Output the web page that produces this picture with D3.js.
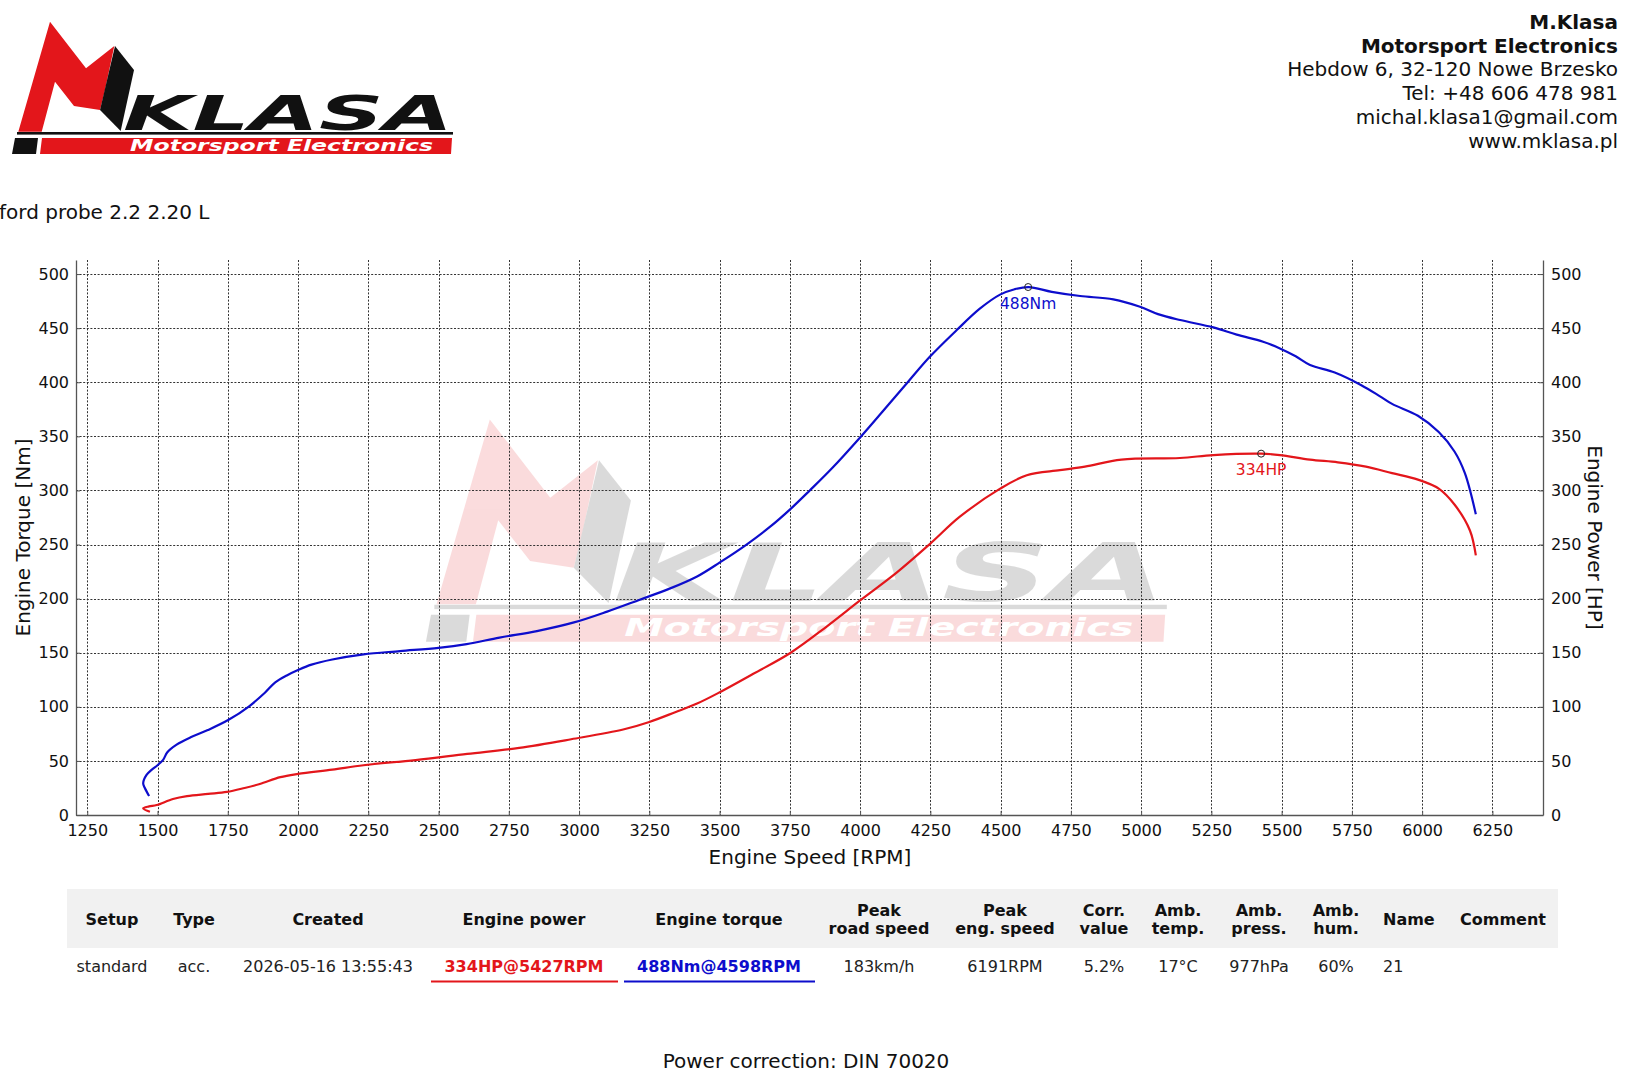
<!DOCTYPE html>
<html>
<head>
<meta charset="utf-8">
<script src="https://cdn.jsdelivr.net/npm/d3@7"></script>
<style>
  body { margin: 0; background: #fff; }
  svg { display: block; font-family: "DejaVu Sans", sans-serif; }
</style>
</head>
<body>
<svg id="dyno" width="1628" height="1080"></svg>
<script>
// ---- data ----
const torqueRpm = [1470, 1455, 1449, 1461, 1480, 1500, 1520, 1535, 1568, 1620, 1679, 1753, 1826, 1882, 1919, 1960,
  2000, 2048, 2122, 2233, 2363, 2500, 2600, 2717, 2850, 2982, 3100, 3216, 3320, 3420, 3501, 3596, 3680, 3753,
  3821, 3900, 4000, 4090, 4171, 4248, 4343, 4426, 4498, 4550, 4600, 4682, 4783, 4901, 4996, 5060, 5139, 5257, 5340,
  5434, 5494, 5550, 5601, 5689, 5782, 5850, 5893, 5985, 6059, 6115, 6152, 6191];
const torqueNm = [17.6, 25, 29.3, 37, 42, 46, 51, 58, 65, 72, 78.5, 88, 100.5, 113, 122.6, 129,
  134, 139, 143.7, 148.5, 151.5, 154.5, 158, 164, 170, 178, 188, 199, 209, 220.5, 233.5, 250, 266.5, 283,
  300, 320.5, 349, 376, 400.5, 423.5, 448, 468, 481, 486, 488, 483.6, 479.7, 476.6, 469.8, 463, 457.5, 450.7, 444,
  437.4, 431.3, 424, 416, 409, 397.5, 387, 380, 369, 354, 336, 316, 278];

const powerRpm = [1473, 1449, 1470, 1497, 1555, 1605, 1680, 1747, 1810, 1864, 1937, 2000, 2122, 2233, 2418,
  2602, 2787, 2972, 3157, 3250, 3342, 3420, 3501, 3620, 3753, 3880, 4000, 4130, 4248, 4355, 4497, 4593, 4711,
  4800, 4930, 5138, 5257, 5427, 5494, 5601, 5700, 5800, 5893, 5985, 6059, 6115, 6170, 6191];
const powerHp = [3, 6.2, 8, 9.2, 14.8, 17.5, 19.5, 21.3, 25, 28.7, 35, 38, 42, 46, 50.8,
  56.5, 62, 70, 79, 86, 95, 103, 113.5, 130.5, 150, 174, 198.3, 224, 250.4, 275.7, 301.4, 314, 318.7,
  322, 328.5, 330, 332.7, 334, 332.7, 328.5, 326, 322, 316, 310, 301.7, 287, 263, 240];

const rpmTicks = [1250, 1500, 1750, 2000, 2250, 2500, 2750, 3000, 3250, 3500, 3750, 4000, 4250, 4500,
  4750, 5000, 5250, 5500, 5750, 6000, 6250];
const valueTicks = [0, 50, 100, 150, 200, 250, 300, 350, 400, 450, 500];

const peakTorque = { rpm: 4598, value: 488, label: "488Nm" };
const peakPower = { rpm: 5427, value: 334, label: "334HP" };

const title = "ford probe 2.2 2.20 L";
const companyLines = ["M.Klasa", "Motorsport Electronics", "Hebdow 6, 32-120 Nowe Brzesko",
  "Tel: +48 606 478 981", "michal.klasa1@gmail.com", "www.mklasa.pl"];

const tableHeaders = [["Setup"], ["Type"], ["Created"], ["Engine power"], ["Engine torque"],
  ["Peak", "road speed"], ["Peak", "eng. speed"], ["Corr.", "value"], ["Amb.", "temp."],
  ["Amb.", "press."], ["Amb.", "hum."], ["Name"], ["Comment"]];
const tableRow = ["standard", "acc.", "2026-05-16 13:55:43", "334HP@5427RPM", "488Nm@4598RPM",
  "183km/h", "6191RPM", "5.2%", "17°C", "977hPa", "60%", "21", ""];

// ---- layout ----
const RED = "#e3161b", BLUE = "#0d0dcc";
const plot = { left: 76, right: 1543, top: 260, bottom: 815 };
const colX = [112, 194, 328, 524, 719, 879, 1005, 1104, 1178, 1259, 1336, 1383, 1503];

const svg = d3.select("#dyno");

const x = d3.scaleLinear().domain([1210, 6430]).range([plot.left, plot.right]);
const yTorque = d3.scaleLinear().domain([0, 513]).range([plot.bottom, plot.top]);
const yPower = d3.scaleLinear().domain([0, 513]).range([plot.bottom, plot.top]);

// logo (drawn in page pixels, reused as watermark)
function drawLogo(g) {
  g.append("polygon").attr("fill", RED)
    .attr("points", "18.3,131.7 50,21.7 86,68.3 114.3,46 105,90 100,110 74,106 55,81.7 41.7,131.7");
  g.append("polygon").attr("fill", "#111")
    .attr("points", "115,46 134,70 120.7,131 100,110");
  g.append("text").text("KLASA")
    .attr("x", 123).attr("y", 130)
    .attr("textLength", 330).attr("lengthAdjust", "spacingAndGlyphs")
    .style("font-size", "48px").style("font-weight", "bold").style("font-style", "italic")
    .attr("fill", "#111");
  g.append("rect").attr("x", 17).attr("y", 132).attr("width", 436).attr("height", 2.6).attr("fill", "#111");
  g.append("polygon").attr("fill", "#111").attr("points", "15,138 38,138 36,154 12,154");
  g.append("polygon").attr("fill", RED).attr("points", "42,138 452,138 451,154 40,154");
  g.append("text").text("Motorsport   Electronics")
    .attr("x", 130).attr("y", 150.5)
    .attr("textLength", 303).attr("lengthAdjust", "spacingAndGlyphs")
    .style("font-size", "15px").style("font-weight", "bold").style("font-style", "italic")
    .attr("fill", "#fff");
}

drawLogo(svg.append("g").attr("class", "logo"));

// watermark behind the chart
drawLogo(svg.append("g")
  .attr("transform", "translate(405.8,383) scale(1.68)")
  .attr("opacity", 0.15));

// header texts
svg.append("text").text(title)
  .attr("x", -1).attr("y", 219)
  .style("font-size", "20px").attr("fill", "#111");

svg.append("g").selectAll("text")
  .data(companyLines)
  .join("text")
  .attr("x", 1618)
  .attr("y", (d, i) => 29 + i * 23.7)
  .attr("text-anchor", "end")
  .style("font-size", "20px")
  .style("font-weight", (d, i) => i < 2 ? "bold" : "normal")
  .attr("fill", "#111")
  .text(d => d);

// grid
const grid = svg.append("g").attr("stroke", "#333").attr("stroke-width", 1).attr("stroke-dasharray", "2,1.6");
grid.selectAll("line.v").data(rpmTicks).join("line").attr("class", "v")
  .attr("x1", d => Math.round(x(d)) + 0.5).attr("x2", d => Math.round(x(d)) + 0.5)
  .attr("y1", plot.top).attr("y2", plot.bottom);
grid.selectAll("line.h").data(valueTicks.slice(1)).join("line").attr("class", "h")
  .attr("x1", plot.left).attr("x2", plot.right)
  .attr("y1", d => Math.round(yTorque(d)) + 0.5).attr("y2", d => Math.round(yTorque(d)) + 0.5);

// axes
function styleAxis(g) {
  g.select(".domain").attr("stroke", "#555").attr("stroke-width", 1.3);
  g.selectAll(".tick line").attr("stroke", "#555");
  g.selectAll(".tick text").style("font-size", "16px").style("font-family", "DejaVu Sans").attr("fill", "#111");
}

svg.append("g")
  .attr("transform", `translate(0,${plot.bottom})`)
  .call(d3.axisBottom(x).tickValues(rpmTicks).tickFormat(d3.format("d"))
    .tickSizeInner(-4).tickSizeOuter(0).tickPadding(10))
  .call(styleAxis);

svg.append("g")
  .attr("transform", `translate(${plot.left},0)`)
  .call(d3.axisLeft(yTorque).tickValues(valueTicks).tickSizeInner(-4).tickSizeOuter(0).tickPadding(7))
  .call(styleAxis);

svg.append("g")
  .attr("transform", `translate(${plot.right},0)`)
  .call(d3.axisRight(yPower).tickValues(valueTicks).tickSizeInner(-4).tickSizeOuter(0).tickPadding(8))
  .call(styleAxis);

// axis titles
svg.append("text").text("Engine Speed [RPM]")
  .attr("x", 810).attr("y", 864).attr("text-anchor", "middle")
  .style("font-size", "20px").attr("fill", "#111");
svg.append("text").text("Engine Torque [Nm]")
  .attr("transform", `translate(30,${(plot.top + plot.bottom) / 2}) rotate(-90)`)
  .attr("text-anchor", "middle")
  .style("font-size", "20px").attr("fill", "#111");
svg.append("text").text("Engine Power [HP]")
  .attr("transform", `translate(1588,${(plot.top + plot.bottom) / 2}) rotate(90)`)
  .attr("text-anchor", "middle")
  .style("font-size", "20px").attr("fill", "#111");

// curves
const torqueLine = d3.line().x(d => x(d[0])).y(d => yTorque(d[1])).curve(d3.curveCatmullRom.alpha(0.5));
const powerLine = d3.line().x(d => x(d[0])).y(d => yPower(d[1])).curve(d3.curveCatmullRom.alpha(0.5));

svg.append("path")
  .datum(d3.zip(powerRpm, powerHp))
  .attr("d", powerLine)
  .attr("fill", "none").attr("stroke", RED).attr("stroke-width", 2.2).attr("stroke-linejoin", "round");

svg.append("path")
  .datum(d3.zip(torqueRpm, torqueNm))
  .attr("d", torqueLine)
  .attr("fill", "none").attr("stroke", BLUE).attr("stroke-width", 2.2).attr("stroke-linejoin", "round");

// peak markers
[[peakTorque, yTorque, BLUE], [peakPower, yPower, RED]].forEach(([p, yScale, color]) => {
  svg.append("circle")
    .attr("cx", x(p.rpm)).attr("cy", yScale(p.value)).attr("r", 3.5)
    .attr("fill", "none").attr("stroke", "#222").attr("stroke-width", 1);
  svg.append("text").text(p.label)
    .attr("x", x(p.rpm)).attr("y", yScale(p.value) + 21.5)
    .attr("text-anchor", "middle")
    .style("font-size", "15.5px").attr("fill", color);
});

// results table
svg.append("rect").attr("x", 67).attr("y", 889).attr("width", 1491).attr("height", 59).attr("fill", "#f1f1f1");

const head = svg.append("g");
tableHeaders.forEach((lines, i) => {
  const anchor = i === 11 ? "start" : "middle";
  lines.forEach((ln, j) => {
    head.append("text").text(ln)
      .attr("x", colX[i])
      .attr("y", lines.length === 1 ? 925 : 915.5 + j * 18.7)
      .attr("text-anchor", anchor)
      .style("font-size", "16px").style("font-weight", "bold").attr("fill", "#111");
  });
});

const row = svg.append("g");
tableRow.forEach((val, i) => {
  const color = i === 3 ? RED : i === 4 ? BLUE : "#222";
  row.append("text").text(val)
    .attr("x", colX[i]).attr("y", 972)
    .attr("text-anchor", i === 11 ? "start" : "middle")
    .style("font-size", "16px")
    .style("font-weight", i === 3 || i === 4 ? "bold" : "normal")
    .attr("fill", color);
});
row.append("rect").attr("x", 431).attr("y", 980.5).attr("width", 187).attr("height", 2).attr("fill", RED);
row.append("rect").attr("x", 624).attr("y", 980.5).attr("width", 191).attr("height", 2).attr("fill", BLUE);

svg.append("text").text("Power correction: DIN 70020")
  .attr("x", 806).attr("y", 1068).attr("text-anchor", "middle")
  .style("font-size", "20px").attr("fill", "#111");
</script>
</body>
</html>
